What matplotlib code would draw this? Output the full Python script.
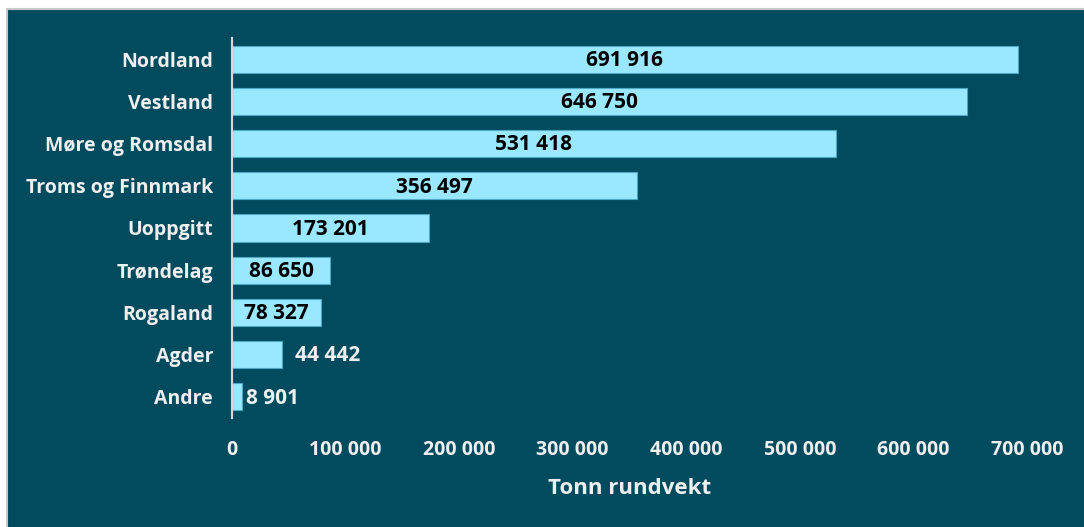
import matplotlib.pyplot as plt
from matplotlib.patches import Rectangle

# data
regions = ['Nordland', 'Vestland', 'Møre og Romsdal', 'Troms og Finnmark',
           'Uoppgitt', 'Trøndelag', 'Rogaland', 'Agder', 'Andre']
tonn = [691916, 646750, 531418, 356497, 173201, 86650, 78327, 44442, 8901]
xticks = [0, 100000, 200000, 300000, 400000, 500000, 600000, 700000]
xlabel = 'Tonn rundvekt'

bg = '#004b5e'
bar_col = '#99e8ff'
txt = '#efefef'
plt.rcParams['font.family'] = ['Open Sans', 'DejaVu Sans']


def fmt(v):
    return f'{v:,}'.replace(',', ' ')


fig = plt.figure(figsize=(10.84, 5.27), dpi=100)
fig.patch.set_facecolor('white')
# dark panel with thin grey frame
fig.patches.append(Rectangle((7 / 1084, -0.01), 1.0, 1 - 9 / 527 + 0.01,
                             transform=fig.transFigure, facecolor=bg,
                             edgecolor='#c8c8c8', linewidth=1.5, zorder=-5))

ax = fig.add_axes([232 / 1084, 1 - 418 / 527, (1027 - 232) / 1084, 380 / 527])
ax.set_facecolor('none')
ax.set_zorder(2)

y = list(range(len(regions)))
ax.barh(y, tonn, height=0.64, color=bar_col, edgecolor='#4fa9c4', linewidth=0.8)
ax.set_ylim(len(regions) - 0.5, -0.5)
ax.set_xlim(0, 700000)

ax.set_yticks(y)
ax.set_yticklabels(regions, fontsize=14, fontweight='bold', color=txt)
ax.set_xticks(xticks)
ax.set_xticklabels([fmt(t) for t in xticks], fontsize=14, fontweight='bold', color=txt)
ax.tick_params(axis='both', length=0)
ax.tick_params(axis='y', pad=13.5)
ax.tick_params(axis='x', pad=15.5)
ax.set_xlabel(xlabel, fontsize=16, fontweight='bold', color=txt, labelpad=13)

for s in ['top', 'right', 'bottom']:
    ax.spines[s].set_visible(False)
ax.spines['left'].set_color('#d9d9d9')
ax.spines['left'].set_linewidth(1.5)

# value labels
for yi, v in zip(y, tonn):
    if v > 60000:
        ax.text(v / 2, yi + 0.03, fmt(v), ha='center', va='center', fontsize=15,
                fontweight='bold', color='black')
    else:
        off = 13 if v > 20000 else 4
        ax.annotate(fmt(v), (v, yi + 0.03), xytext=(off, 0), textcoords='offset pixels',
                    ha='left', va='center', fontsize=15, fontweight='bold', color=txt)

fig.savefig('out.png', dpi=100, facecolor=fig.get_facecolor())
